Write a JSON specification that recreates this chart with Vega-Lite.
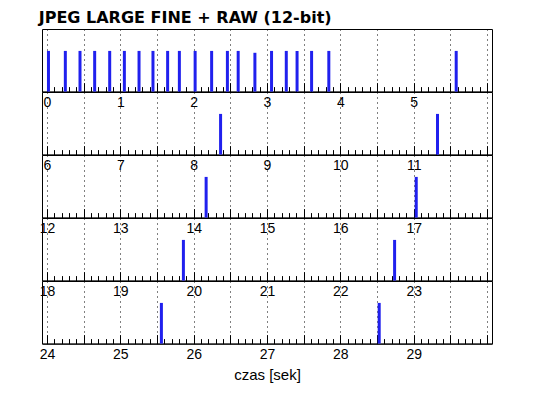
{
  "$schema": "https://vega.github.io/schema/vega-lite/v6.json",
  "padding": {"left": 38, "top": 9, "right": 47, "bottom": 10},
  "background": "white",
  "data": {"values": [
    {"t": 0.02, "h": 0.65}, {"t": 0.25, "h": 0.65}, {"t": 0.45, "h": 0.65}, {"t": 0.65, "h": 0.65},
    {"t": 0.855, "h": 0.65}, {"t": 1.055, "h": 0.65}, {"t": 1.255, "h": 0.65}, {"t": 1.445, "h": 0.65},
    {"t": 1.645, "h": 0.65}, {"t": 1.805, "h": 0.65}, {"t": 2.02, "h": 0.65}, {"t": 2.245, "h": 0.65},
    {"t": 2.46, "h": 0.65}, {"t": 2.607, "h": 0.65}, {"t": 2.835, "h": 0.62}, {"t": 3.062, "h": 0.65},
    {"t": 3.263, "h": 0.65}, {"t": 3.41, "h": 0.65}, {"t": 3.608, "h": 0.65}, {"t": 3.843, "h": 0.65},
    {"t": 5.58, "h": 0.65},
    {"t": 8.367, "h": 0.65}, {"t": 11.325, "h": 0.65},
    {"t": 14.17, "h": 0.65}, {"t": 17.035, "h": 0.65},
    {"t": 19.86, "h": 0.65}, {"t": 22.74, "h": 0.65},
    {"t": 25.56, "h": 0.65}, {"t": 28.53, "h": 0.65}
  ]},
  "title": {"text": "JPEG LARGE FINE + RAW (12-bit)", "anchor": "start", "font": "DejaVu Sans", "fontSize": 16, "fontWeight": "bold", "color": "black", "offset": 3},
  "spacing": 0,
  "bounds": "flush",
  "vconcat": [
    {
      "width": 450, "height": 62.6,
      "transform": [{"filter": "datum.t >= 0 && datum.t < 6"}],
      "layer": [
        {"mark": {"type": "bar", "size": 3, "color": "#2020ee"},
         "encoding": {"x": {"field": "t", "type": "quantitative", "scale": {"domain": [0, 6], "nice": false, "zero": false},
                            "axis": {"orient": "bottom", "tickCount": 60, "tickSize": -5, "labels": false, "domain": true, "grid": false, "title": null}},
                      "y": {"field": "h", "type": "quantitative", "scale": {"domain": [0, 1]}, "axis": null}}},
        {"mark": {"type": "bar", "size": 3, "opacity": 0},
         "encoding": {"x": {"field": "t", "type": "quantitative",
                            "axis": {"orient": "bottom", "tickCount": 12, "tickSize": -9, "labels": false, "domain": false, "grid": true, "title": null}},
                      "y": {"field": "h", "type": "quantitative", "axis": null}}},
        {"mark": {"type": "bar", "size": 3, "opacity": 0},
         "encoding": {"x": {"field": "t", "type": "quantitative",
                            "axis": {"orient": "bottom", "values": [0, 1, 2, 3, 4, 5], "ticks": false, "labels": true, "domain": false, "grid": false, "title": null}},
                      "y": {"field": "h", "type": "quantitative", "axis": null}}}
      ],
      "resolve": {"axis": {"x": "independent"}}
    },
    {
      "width": 450, "height": 62.6,
      "transform": [{"filter": "datum.t >= 6 && datum.t < 12"}],
      "layer": [
        {"mark": {"type": "bar", "size": 3, "color": "#2020ee"},
         "encoding": {"x": {"field": "t", "type": "quantitative", "scale": {"domain": [6, 12], "nice": false, "zero": false},
                            "axis": {"orient": "bottom", "tickCount": 60, "tickSize": -5, "labels": false, "domain": true, "grid": false, "title": null}},
                      "y": {"field": "h", "type": "quantitative", "scale": {"domain": [0, 1]}, "axis": null}}},
        {"mark": {"type": "bar", "size": 3, "opacity": 0},
         "encoding": {"x": {"field": "t", "type": "quantitative",
                            "axis": {"orient": "bottom", "tickCount": 12, "tickSize": -9, "labels": false, "domain": false, "grid": true, "title": null}},
                      "y": {"field": "h", "type": "quantitative", "axis": null}}},
        {"mark": {"type": "bar", "size": 3, "opacity": 0},
         "encoding": {"x": {"field": "t", "type": "quantitative",
                            "axis": {"orient": "bottom", "values": [6, 7, 8, 9, 10, 11], "ticks": false, "labels": true, "domain": false, "grid": false, "title": null}},
                      "y": {"field": "h", "type": "quantitative", "axis": null}}}
      ],
      "resolve": {"axis": {"x": "independent"}}
    },
    {
      "width": 450, "height": 62.6,
      "transform": [{"filter": "datum.t >= 12 && datum.t < 18"}],
      "layer": [
        {"mark": {"type": "bar", "size": 3, "color": "#2020ee"},
         "encoding": {"x": {"field": "t", "type": "quantitative", "scale": {"domain": [12, 18], "nice": false, "zero": false},
                            "axis": {"orient": "bottom", "tickCount": 60, "tickSize": -5, "labels": false, "domain": true, "grid": false, "title": null}},
                      "y": {"field": "h", "type": "quantitative", "scale": {"domain": [0, 1]}, "axis": null}}},
        {"mark": {"type": "bar", "size": 3, "opacity": 0},
         "encoding": {"x": {"field": "t", "type": "quantitative",
                            "axis": {"orient": "bottom", "tickCount": 12, "tickSize": -9, "labels": false, "domain": false, "grid": true, "title": null}},
                      "y": {"field": "h", "type": "quantitative", "axis": null}}},
        {"mark": {"type": "bar", "size": 3, "opacity": 0},
         "encoding": {"x": {"field": "t", "type": "quantitative",
                            "axis": {"orient": "bottom", "values": [12, 13, 14, 15, 16, 17], "ticks": false, "labels": true, "domain": false, "grid": false, "title": null}},
                      "y": {"field": "h", "type": "quantitative", "axis": null}}}
      ],
      "resolve": {"axis": {"x": "independent"}}
    },
    {
      "width": 450, "height": 62.6,
      "transform": [{"filter": "datum.t >= 18 && datum.t < 24"}],
      "layer": [
        {"mark": {"type": "bar", "size": 3, "color": "#2020ee"},
         "encoding": {"x": {"field": "t", "type": "quantitative", "scale": {"domain": [18, 24], "nice": false, "zero": false},
                            "axis": {"orient": "bottom", "tickCount": 60, "tickSize": -5, "labels": false, "domain": true, "grid": false, "title": null}},
                      "y": {"field": "h", "type": "quantitative", "scale": {"domain": [0, 1]}, "axis": null}}},
        {"mark": {"type": "bar", "size": 3, "opacity": 0},
         "encoding": {"x": {"field": "t", "type": "quantitative",
                            "axis": {"orient": "bottom", "tickCount": 12, "tickSize": -9, "labels": false, "domain": false, "grid": true, "title": null}},
                      "y": {"field": "h", "type": "quantitative", "axis": null}}},
        {"mark": {"type": "bar", "size": 3, "opacity": 0},
         "encoding": {"x": {"field": "t", "type": "quantitative",
                            "axis": {"orient": "bottom", "values": [18, 19, 20, 21, 22, 23], "ticks": false, "labels": true, "domain": false, "grid": false, "title": null}},
                      "y": {"field": "h", "type": "quantitative", "axis": null}}}
      ],
      "resolve": {"axis": {"x": "independent"}}
    },
    {
      "width": 450, "height": 62.6,
      "transform": [{"filter": "datum.t >= 24 && datum.t < 30"}],
      "layer": [
        {"mark": {"type": "bar", "size": 3, "color": "#2020ee"},
         "encoding": {"x": {"field": "t", "type": "quantitative", "scale": {"domain": [24, 30], "nice": false, "zero": false},
                            "axis": {"orient": "bottom", "tickCount": 60, "tickSize": -5, "labels": false, "domain": true, "grid": false, "title": null}},
                      "y": {"field": "h", "type": "quantitative", "scale": {"domain": [0, 1]}, "axis": null}}},
        {"mark": {"type": "bar", "size": 3, "opacity": 0},
         "encoding": {"x": {"field": "t", "type": "quantitative",
                            "axis": {"orient": "bottom", "tickCount": 12, "tickSize": -9, "labels": false, "domain": false, "grid": true, "title": null}},
                      "y": {"field": "h", "type": "quantitative", "axis": null}}},
        {"mark": {"type": "bar", "size": 3, "opacity": 0},
         "encoding": {"x": {"field": "t", "type": "quantitative",
                            "axis": {"orient": "bottom", "values": [24, 25, 26, 27, 28, 29], "ticks": false, "labels": true, "domain": false, "grid": false, "title": "czas [sek]"}},
                      "y": {"field": "h", "type": "quantitative", "axis": null}}}
      ],
      "resolve": {"axis": {"x": "independent"}}
    }
  ],
  "config": {
    "view": {"stroke": "black", "strokeWidth": 1},
    "axis": {
      "domainColor": "black", "domainWidth": 1, "tickColor": "black", "tickWidth": 1,
      "gridColor": "black", "gridDash": [1, 4], "gridOpacity": 1, "gridWidth": 1,
      "labelFont": "Liberation Sans", "labelFontSize": 14, "labelColor": "black", "labelPadding": 4,
      "labelFlush": true, "labelOverlap": false,
      "titleFont": "Liberation Sans", "titleFontSize": 15, "titleFontWeight": "normal", "titleColor": "black", "titlePadding": 6
    }
  }
}
